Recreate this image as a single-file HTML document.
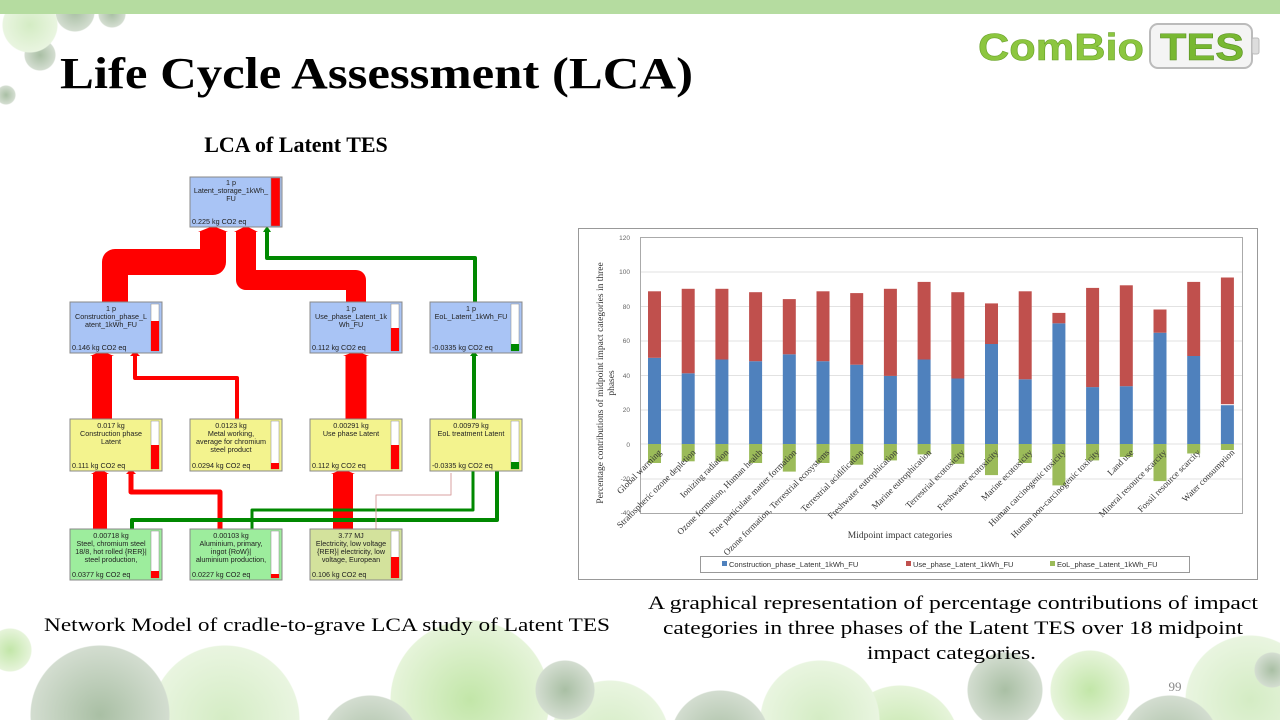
<!DOCTYPE html>
<html><head><meta charset="utf-8"><style>
html,body{margin:0;padding:0;background:#fff;width:1280px;height:720px;overflow:hidden;}
#bg{position:absolute;left:0;top:0;width:1280px;height:720px;
background:
radial-gradient(circle 28px at 30px 25px,#d4ecc4,#e9f5e0 27px,transparent 28px),
radial-gradient(circle 20px at 75px 12px,#a9bfa4,#d3ddd0 19px,transparent 20px),
radial-gradient(circle 16px at 40px 55px,#a9bfa4,#d3ddd0 15px,transparent 16px),
radial-gradient(circle 10px at 6px 95px,#a9bfa4,#d3ddd0 9px,transparent 10px),
radial-gradient(circle 14px at 112px 14px,#a9bfa4,#d3ddd0 13px,transparent 14px),
radial-gradient(circle 70px at 100px 715px,#a9bfa4,#d3ddd0 69px,transparent 70px),
radial-gradient(circle 22px at 10px 650px,#c2e6a8,#e6f4da 21px,transparent 22px),
radial-gradient(circle 75px at 225px 720px,#d4ecc4,#e9f5e0 74px,transparent 75px),
radial-gradient(circle 50px at 370px 745px,#a9bfa4,#d3ddd0 49px,transparent 50px),
radial-gradient(circle 30px at 565px 690px,#a9bfa4,#d3ddd0 29px,transparent 30px),
radial-gradient(circle 80px at 470px 700px,#c2e6a8,#e6f4da 79px,transparent 80px),
radial-gradient(circle 60px at 610px 740px,#d4ecc4,#e9f5e0 59px,transparent 60px),
radial-gradient(circle 50px at 720px 740px,#a9bfa4,#d3ddd0 49px,transparent 50px),
radial-gradient(circle 60px at 820px 720px,#d4ecc4,#e9f5e0 59px,transparent 60px),
radial-gradient(circle 60px at 900px 745px,#c2e6a8,#e6f4da 59px,transparent 60px),
radial-gradient(circle 38px at 1005px 690px,#a9bfa4,#d3ddd0 37px,transparent 38px),
radial-gradient(circle 40px at 1090px 690px,#c2e6a8,#e6f4da 39px,transparent 40px),
radial-gradient(circle 18px at 1272px 670px,#a9bfa4,#d3ddd0 17px,transparent 18px),
radial-gradient(circle 50px at 1170px 745px,#a9bfa4,#d3ddd0 49px,transparent 50px),
radial-gradient(circle 65px at 1250px 700px,#d4ecc4,#e9f5e0 64px,transparent 65px),
#fff;}
svg{position:absolute;left:0;top:0;display:block;}
.s{font-family:"Liberation Sans",sans-serif;}
.f{font-family:"Liberation Serif",serif;}
</style></head><body>
<div id="bg"></div>
<svg width="1280" height="720" viewBox="0 0 1280 720" xmlns="http://www.w3.org/2000/svg">
<rect x="0" y="0" width="1280" height="14" fill="#b5dca0"/>
<text x="978" y="60" class="s" font-size="38" font-weight="bold" fill="#8cc63f" stroke="#6aa32a" stroke-width="0.6" textLength="166" lengthAdjust="spacingAndGlyphs">ComBio</text>
<rect x="1150" y="24" width="102" height="44" rx="8" fill="#f4f4f4" stroke="#bbb" stroke-width="2"/>
<rect x="1252" y="38" width="7" height="16" rx="2" fill="#ddd" stroke="#bbb"/>
<text x="1160" y="60" class="s" font-size="38" font-weight="bold" fill="#78b832" stroke="#5a9222" stroke-width="0.6" textLength="84" lengthAdjust="spacingAndGlyphs">TES</text>
<text x="60" y="88" class="f" font-size="44" font-weight="bold" fill="#000" textLength="633" lengthAdjust="spacingAndGlyphs">Life Cycle Assessment (LCA)</text>
<text x="296" y="152" class="f" font-size="22" font-weight="bold" fill="#000" text-anchor="middle">LCA of Latent TES</text>

<g fill="none" stroke-linejoin="round">
<polyline points="115,302 115,262 213,262 213,232" stroke="#f00" stroke-width="26"/>
<polyline points="246,232 246,280 356,280 356,302" stroke="#f00" stroke-width="20"/>
<polyline points="267,232 267,258 475,258 475,302" stroke="#080" stroke-width="4"/>
<line x1="102" y1="419" x2="102" y2="356" stroke="#f00" stroke-width="20"/>
<polyline points="237,419 237,378 135,378 135,356" stroke="#f00" stroke-width="4"/>
<line x1="356" y1="419" x2="356" y2="356" stroke="#f00" stroke-width="21"/>
<line x1="474" y1="419" x2="474" y2="356" stroke="#080" stroke-width="4"/>
<line x1="100" y1="529" x2="100" y2="474" stroke="#f00" stroke-width="14"/>
<polyline points="220,529 220,492 131,492 131,474" stroke="#f00" stroke-width="5"/>
<line x1="343" y1="529" x2="343" y2="474" stroke="#f00" stroke-width="20"/>
<polyline points="473,471 473,510 252,510 252,529" stroke="#080" stroke-width="3"/>
<polyline points="497,471 497,520 132,520 132,529" stroke="#080" stroke-width="4"/>
<polyline points="376,529 376,495 451,495 451,473" stroke="#d8a0a0" stroke-width="1"/>
</g>
<g fill="#f00">
<polygon points="198,232 213,226 228,232"/><polygon points="234,232 246,226 258,232"/>
<polygon points="90,356 102,351 114,356"/><polygon points="343,356 356,351 369,356"/>
<polygon points="130,356 135,351 140,356"/><polygon points="91,474 100,469 109,474"/>
<polygon points="126,474 131,469 136,474"/><polygon points="331,474 343,469 355,474"/>
</g>
<g fill="#080"><polygon points="263,232 267,226 271,232"/><polygon points="470,356 474,351 478,356"/></g>

<g class="s" font-size="7.2" fill="#222">
<rect x="190" y="177" width="92" height="50" fill="#a9c4f5" stroke="#888"/>
<rect x="271" y="178" width="9" height="48" fill="#f00" stroke="#888" stroke-width="0.5"/>
<text x="231" y="185" text-anchor="middle">1 p</text><text x="231" y="193" text-anchor="middle">Latent_storage_1kWh_</text><text x="231" y="201" text-anchor="middle">FU</text><text x="192" y="224">0.225 kg CO2 eq</text>
<rect x="70" y="302" width="92" height="51" fill="#a9c4f5" stroke="#888"/>
<rect x="151" y="304" width="8" height="47" fill="#fff" stroke="#888" stroke-width="0.5"/><rect x="151" y="321" width="8" height="30" fill="#f00"/>
<text x="111" y="311" text-anchor="middle">1 p</text><text x="111" y="319" text-anchor="middle">Construction_phase_L</text><text x="111" y="327" text-anchor="middle">atent_1kWh_FU</text><text x="72" y="350">0.146 kg CO2 eq</text>
<rect x="310" y="302" width="92" height="51" fill="#a9c4f5" stroke="#888"/>
<rect x="391" y="304" width="8" height="47" fill="#fff" stroke="#888" stroke-width="0.5"/><rect x="391" y="328" width="8" height="23" fill="#f00"/>
<text x="351" y="311" text-anchor="middle">1 p</text><text x="351" y="319" text-anchor="middle">Use_phase_Latent_1k</text><text x="351" y="327" text-anchor="middle">Wh_FU</text><text x="312" y="350">0.112 kg CO2 eq</text>
<rect x="430" y="302" width="92" height="51" fill="#a9c4f5" stroke="#888"/>
<rect x="511" y="304" width="8" height="47" fill="#fff" stroke="#888" stroke-width="0.5"/><rect x="511" y="344" width="8" height="7" fill="#080"/>
<text x="471" y="311" text-anchor="middle">1 p</text><text x="471" y="319" text-anchor="middle">EoL_Latent_1kWh_FU</text><text x="432" y="350">-0.0335 kg CO2 eq</text>
<rect x="70" y="419" width="92" height="52" fill="#f3f38e" stroke="#888"/>
<rect x="151" y="421" width="8" height="48" fill="#fff" stroke="#888" stroke-width="0.5"/><rect x="151" y="445" width="8" height="24" fill="#f00"/>
<text x="111" y="428" text-anchor="middle">0.017 kg</text><text x="111" y="436" text-anchor="middle">Construction phase</text><text x="111" y="444" text-anchor="middle">Latent</text><text x="72" y="468">0.111 kg CO2 eq</text>
<rect x="190" y="419" width="92" height="52" fill="#f3f38e" stroke="#888"/>
<rect x="271" y="421" width="8" height="48" fill="#fff" stroke="#888" stroke-width="0.5"/><rect x="271" y="463" width="8" height="6" fill="#f00"/>
<text x="231" y="428" text-anchor="middle">0.0123 kg</text><text x="231" y="436" text-anchor="middle">Metal working,</text><text x="231" y="444" text-anchor="middle">average for chromium</text><text x="231" y="452" text-anchor="middle">steel product</text><text x="192" y="468">0.0294 kg CO2 eq</text>
<rect x="310" y="419" width="92" height="52" fill="#f3f38e" stroke="#888"/>
<rect x="391" y="421" width="8" height="48" fill="#fff" stroke="#888" stroke-width="0.5"/><rect x="391" y="445" width="8" height="24" fill="#f00"/>
<text x="351" y="428" text-anchor="middle">0.00291 kg</text><text x="351" y="436" text-anchor="middle">Use phase Latent</text><text x="312" y="468">0.112 kg CO2 eq</text>
<rect x="430" y="419" width="92" height="52" fill="#f3f38e" stroke="#888"/>
<rect x="511" y="421" width="8" height="48" fill="#fff" stroke="#888" stroke-width="0.5"/><rect x="511" y="462" width="8" height="7" fill="#080"/>
<text x="471" y="428" text-anchor="middle">0.00979 kg</text><text x="471" y="436" text-anchor="middle">EoL treatment Latent</text><text x="432" y="468">-0.0335 kg CO2 eq</text>
<rect x="70" y="529" width="92" height="51" fill="#9ded9d" stroke="#888"/>
<rect x="151" y="531" width="8" height="47" fill="#fff" stroke="#888" stroke-width="0.5"/><rect x="151" y="571" width="8" height="7" fill="#f00"/>
<text x="111" y="538" text-anchor="middle">0.00718 kg</text><text x="111" y="546" text-anchor="middle">Steel, chromium steel</text><text x="111" y="554" text-anchor="middle">18/8, hot rolled {RER}|</text><text x="111" y="562" text-anchor="middle">steel production,</text><text x="72" y="577">0.0377 kg CO2 eq</text>
<rect x="190" y="529" width="92" height="51" fill="#9ded9d" stroke="#888"/>
<rect x="271" y="531" width="8" height="47" fill="#fff" stroke="#888" stroke-width="0.5"/><rect x="271" y="574" width="8" height="4" fill="#f00"/>
<text x="231" y="538" text-anchor="middle">0.00103 kg</text><text x="231" y="546" text-anchor="middle">Aluminium, primary,</text><text x="231" y="554" text-anchor="middle">ingot {RoW}|</text><text x="231" y="562" text-anchor="middle">aluminium production,</text><text x="192" y="577">0.0227 kg CO2 eq</text>
<rect x="310" y="529" width="92" height="51" fill="#d3e29c" stroke="#888"/>
<rect x="391" y="531" width="8" height="47" fill="#fff" stroke="#888" stroke-width="0.5"/><rect x="391" y="557" width="8" height="21" fill="#f00"/>
<text x="351" y="538" text-anchor="middle">3.77 MJ</text><text x="351" y="546" text-anchor="middle">Electricity, low voltage</text><text x="351" y="554" text-anchor="middle">{RER}| electricity, low</text><text x="351" y="562" text-anchor="middle">voltage, European</text><text x="312" y="577">0.106 kg CO2 eq</text>
</g>

<rect x="578.5" y="228.5" width="679" height="351" fill="#fff" stroke="#999"/>
<g stroke="#e2e2e2" stroke-width="1">
<line x1="640" y1="272" x2="1243" y2="272"/><line x1="640" y1="306.5" x2="1243" y2="306.5"/><line x1="640" y1="341" x2="1243" y2="341"/><line x1="640" y1="375.5" x2="1243" y2="375.5"/><line x1="640" y1="410" x2="1243" y2="410"/><line x1="640" y1="444" x2="1243" y2="444"/><line x1="640" y1="479" x2="1243" y2="479"/>
</g>
<rect x="640.5" y="237.5" width="602" height="276" fill="none" stroke="#aaa"/>
<g class="s" font-size="6.5" fill="#666" text-anchor="end">
<text x="630" y="240">120</text><text x="630" y="274">100</text><text x="630" y="309">80</text><text x="630" y="343">60</text><text x="630" y="378">40</text><text x="630" y="412">20</text><text x="630" y="447">0</text><text x="630" y="481">-20</text><text x="630" y="515">-40</text>
</g>
<g>
<rect x="648" y="357.8" width="13" height="86.2" fill="#4f81bd"/><rect x="648" y="291.3" width="13" height="66.5" fill="#c0504d"/><rect x="648" y="444" width="13" height="19" fill="#9bbb59"/>
<rect x="681.7" y="373.3" width="13" height="70.7" fill="#4f81bd"/><rect x="681.7" y="288.8" width="13" height="84.5" fill="#c0504d"/><rect x="681.7" y="444" width="13" height="17.3" fill="#9bbb59"/>
<rect x="715.4" y="359.5" width="13" height="84.5" fill="#4f81bd"/><rect x="715.4" y="288.8" width="13" height="70.7" fill="#c0504d"/><rect x="715.4" y="444" width="13" height="17.3" fill="#9bbb59"/>
<rect x="749.1" y="361.2" width="13" height="82.8" fill="#4f81bd"/><rect x="749.1" y="292.2" width="13" height="69" fill="#c0504d"/><rect x="749.1" y="444" width="13" height="19" fill="#9bbb59"/>
<rect x="782.8" y="354.3" width="13" height="89.7" fill="#4f81bd"/><rect x="782.8" y="299.1" width="13" height="55.2" fill="#c0504d"/><rect x="782.8" y="444" width="13" height="27.6" fill="#9bbb59"/>
<rect x="816.5" y="361.2" width="13" height="82.8" fill="#4f81bd"/><rect x="816.5" y="291.3" width="13" height="69.9" fill="#c0504d"/><rect x="816.5" y="444" width="13" height="19" fill="#9bbb59"/>
<rect x="850.2" y="364.7" width="13" height="79.3" fill="#4f81bd"/><rect x="850.2" y="293.1" width="13" height="71.6" fill="#c0504d"/><rect x="850.2" y="444" width="13" height="20.7" fill="#9bbb59"/>
<rect x="883.9" y="375.9" width="13" height="68.1" fill="#4f81bd"/><rect x="883.9" y="288.8" width="13" height="87.1" fill="#c0504d"/><rect x="883.9" y="444" width="13" height="16.4" fill="#9bbb59"/>
<rect x="917.6" y="359.5" width="13" height="84.5" fill="#4f81bd"/><rect x="917.6" y="281.9" width="13" height="77.6" fill="#c0504d"/><rect x="917.6" y="444" width="13" height="10.4" fill="#9bbb59"/>
<rect x="951.3" y="378.5" width="13" height="65.5" fill="#4f81bd"/><rect x="951.3" y="292.2" width="13" height="86.3" fill="#c0504d"/><rect x="951.3" y="444" width="13" height="19.8" fill="#9bbb59"/>
<rect x="985" y="344" width="13" height="100" fill="#4f81bd"/><rect x="985" y="303.4" width="13" height="40.6" fill="#c0504d"/><rect x="985" y="444" width="13" height="31.1" fill="#9bbb59"/>
<rect x="1018.7" y="379.3" width="13" height="64.7" fill="#4f81bd"/><rect x="1018.7" y="291.3" width="13" height="88" fill="#c0504d"/><rect x="1018.7" y="444" width="13" height="19" fill="#9bbb59"/>
<rect x="1052.4" y="323.3" width="13" height="120.7" fill="#4f81bd"/><rect x="1052.4" y="312.9" width="13" height="10.4" fill="#c0504d"/><rect x="1052.4" y="444" width="13" height="41.4" fill="#9bbb59"/>
<rect x="1086.1" y="387.1" width="13" height="56.9" fill="#4f81bd"/><rect x="1086.1" y="287.9" width="13" height="99.2" fill="#c0504d"/><rect x="1086.1" y="444" width="13" height="16.4" fill="#9bbb59"/>
<rect x="1119.8" y="386.2" width="13" height="57.8" fill="#4f81bd"/><rect x="1119.8" y="285.3" width="13" height="100.9" fill="#c0504d"/><rect x="1119.8" y="444" width="13" height="12.9" fill="#9bbb59"/>
<rect x="1153.5" y="332.7" width="13" height="111.3" fill="#4f81bd"/><rect x="1153.5" y="309.5" width="13" height="23.2" fill="#c0504d"/><rect x="1153.5" y="444" width="13" height="37.1" fill="#9bbb59"/>
<rect x="1187.2" y="356" width="13" height="88" fill="#4f81bd"/><rect x="1187.2" y="281.9" width="13" height="74.1" fill="#c0504d"/><rect x="1187.2" y="444" width="13" height="9.5" fill="#9bbb59"/>
<rect x="1220.9" y="405.2" width="13" height="38.8" fill="#4f81bd"/><rect x="1220.9" y="277.5" width="13" height="126.7" fill="#c0504d"/><rect x="1220.9" y="444" width="13" height="6" fill="#9bbb59"/>
</g>
<g class="f" font-size="9" fill="#333" text-anchor="end">
<text transform="translate(662,453) rotate(-45)">Global warming</text>
<text transform="translate(696,453) rotate(-45)">Stratospheric ozone depletion</text>
<text transform="translate(729,453) rotate(-45)">Ionizing radiation</text>
<text transform="translate(763,453) rotate(-45)">Ozone formation, Human health</text>
<text transform="translate(797,453) rotate(-45)">Fine particulate matter formation</text>
<text transform="translate(830,453) rotate(-45)">Ozone formation, Terrestrial ecosystems</text>
<text transform="translate(864,453) rotate(-45)">Terrestrial acidification</text>
<text transform="translate(898,453) rotate(-45)">Freshwater eutrophication</text>
<text transform="translate(932,453) rotate(-45)">Marine eutrophication</text>
<text transform="translate(965,453) rotate(-45)">Terrestrial ecotoxicity</text>
<text transform="translate(999,453) rotate(-45)">Freshwater ecotoxicity</text>
<text transform="translate(1033,453) rotate(-45)">Marine ecotoxicity</text>
<text transform="translate(1066,453) rotate(-45)">Human carcinogenic toxicity</text>
<text transform="translate(1100,453) rotate(-45)">Human non-carcinogenic toxicity</text>
<text transform="translate(1134,453) rotate(-45)">Land use</text>
<text transform="translate(1167,453) rotate(-45)">Mineral resource scarcity</text>
<text transform="translate(1201,453) rotate(-45)">Fossil resource scarcity</text>
<text transform="translate(1235,453) rotate(-45)">Water consumption</text>
</g>
<text x="900" y="538" class="f" font-size="9.5" fill="#333" text-anchor="middle">Midpoint impact categories</text>
<g class="f" font-size="9.5" fill="#333" text-anchor="middle">
<text transform="translate(603,383) rotate(-90)">Percentage contributions of midpoint impact categories in three</text>
<text transform="translate(614,383) rotate(-90)">phases</text>
</g>
<rect x="700.5" y="556.5" width="489" height="16" fill="#fff" stroke="#999"/>
<g class="s" font-size="7.5" fill="#333">
<rect x="722" y="561" width="5" height="5" fill="#4f81bd"/><text x="729" y="567">Construction_phase_Latent_1kWh_FU</text>
<rect x="906" y="561" width="5" height="5" fill="#c0504d"/><text x="913" y="567">Use_phase_Latent_1kWh_FU</text>
<rect x="1050" y="561" width="5" height="5" fill="#9bbb59"/><text x="1057" y="567">EoL_phase_Latent_1kWh_FU</text>
</g>

<g class="f" font-size="19" fill="#000">
<text x="44" y="631" textLength="566" lengthAdjust="spacingAndGlyphs">Network Model of cradle-to-grave LCA study of Latent TES</text>
<text x="648" y="609" textLength="610" lengthAdjust="spacingAndGlyphs">A graphical representation of percentage contributions of impact</text>
<text x="663" y="634" textLength="580" lengthAdjust="spacingAndGlyphs">categories in three phases of the Latent TES over 18 midpoint</text>
<text x="867" y="659" textLength="169" lengthAdjust="spacingAndGlyphs">impact categories.</text>
</g>
<text x="1175" y="691" class="f" font-size="13" fill="#888" text-anchor="middle">99</text>
</svg>
</body></html>
